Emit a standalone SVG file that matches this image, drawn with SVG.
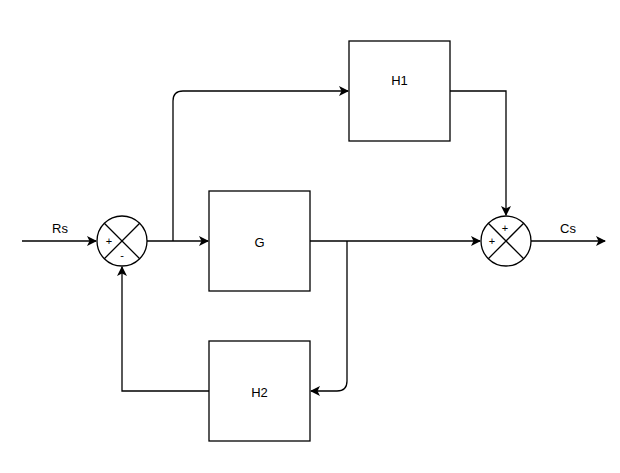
<svg xmlns="http://www.w3.org/2000/svg" width="620" height="473" viewBox="0 0 620 473">
<style>
.box{fill:#fff;stroke:#000;stroke-width:1.3}
.sum{fill:#fff;stroke:#000;stroke-width:1.3}
.ln{fill:none;stroke:#000;stroke-width:1.3}
text{font-family:"Liberation Sans",Arial,sans-serif;font-size:13px;fill:#000}
.s{font-size:11px}
.c{text-anchor:middle}
</style>
<defs>
<marker id="ah" viewBox="0 0 10 10" refX="9" refY="5" markerWidth="10" markerHeight="10" markerUnits="userSpaceOnUse" orient="auto">
<path d="M0,0 L10,5 L0,10 L2.5,5 Z" fill="#000"/>
</marker>
</defs>
<rect width="620" height="473" fill="#fff"/>
<g id="connectors">
<path class="ln" d="M22,241 H96" marker-end="url(#ah)"/>
<path class="ln" d="M147,241 H208" marker-end="url(#ah)"/>
<path class="ln" d="M173,241 V101 Q173,91 183,91 H348" marker-end="url(#ah)"/>
<path class="ln" d="M450,91 H506 V215" marker-end="url(#ah)"/>
<path class="ln" d="M310,241 H480" marker-end="url(#ah)"/>
<path class="ln" d="M347,241 V381 Q347,391 337,391 H311" marker-end="url(#ah)"/>
<path class="ln" d="M209,391 H122 V267" marker-end="url(#ah)"/>
<path class="ln" d="M531,241 H605" marker-end="url(#ah)"/>
</g>
<g id="label-rs"><text x="60" y="233" class="c">Rs</text></g>
<g id="label-cs"><text x="568" y="233" class="c">Cs</text></g>
<g id="sum1">
<circle class="sum" cx="122" cy="241" r="25"/>
<path class="ln" d="M104.3,223.3 L139.7,258.7 M139.7,223.3 L104.3,258.7"/>
<text x="109" y="245" class="c s">+</text>
<text x="122" y="259" class="c s">-</text>
</g>
<g id="sum2">
<circle class="sum" cx="506" cy="241" r="25"/>
<path class="ln" d="M488.3,223.3 L523.7,258.7 M523.7,223.3 L488.3,258.7"/>
<text x="505" y="232" class="c s">+</text>
<text x="492" y="245" class="c s">+</text>
</g>
<g id="H1"><rect class="box" x="349" y="41" width="101" height="100"/><text x="399.5" y="85" class="c">H1</text></g>
<g id="G"><rect class="box" x="209" y="191" width="101" height="100"/><text x="259.5" y="247" class="c">G</text></g>
<g id="H2"><rect class="box" x="209" y="341" width="101" height="100"/><text x="259.5" y="397" class="c">H2</text></g>
</svg>
